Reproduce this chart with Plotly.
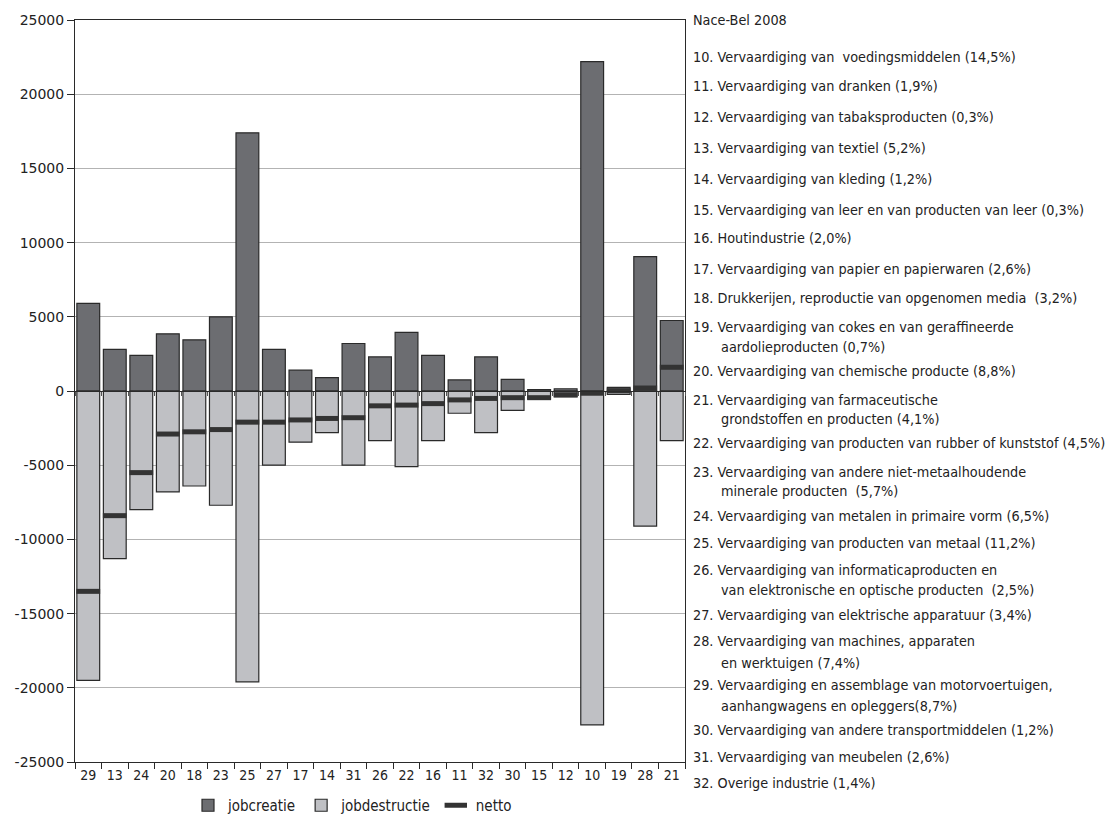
import plotly.graph_objects as go

# NACE-Bel 2008 sector codes, in plotted order
categories = ["29", "13", "24", "20", "18", "23", "25", "27", "17", "14", "31", "26",
              "22", "16", "11", "32", "30", "15", "12", "10", "19", "28", "21"]

jobcreatie = [5900, 2800, 2400, 3850, 3450, 5000, 17400, 2800, 1400, 900, 3200, 2300,
              3950, 2400, 750, 2300, 780, 100, 150, 22200, 250, 9050, 4750]

jobdestructie = [-19500, -11300, -8000, -6800, -6400, -7700, -19600, -5000, -3450, -2800, -5000, -3350,
                 -5100, -3350, -1500, -2800, -1300, -550, -400, -22500, -230, -9100, -3350]

netto = [-13500, -8400, -5500, -2900, -2750, -2600, -2100, -2100, -1950, -1850, -1800, -1000,
         -950, -850, -600, -500, -450, -450, -250, -150, 20, 200, 1600]

y_ticks = [25000, 20000, 15000, 10000, 5000, 0, -5000, -10000, -15000, -20000, -25000]

# Sector key shown to the right of the chart (second element = continuation line)
sector_key = [
    ("Nace-Bel 2008", None),
    ("10. Vervaardiging van  voedingsmiddelen (14,5%)", None),
    ("11. Vervaardiging van dranken (1,9%)", None),
    ("12. Vervaardiging van tabaksproducten (0,3%)", None),
    ("13. Vervaardiging van textiel (5,2%)", None),
    ("14. Vervaardiging van kleding (1,2%)", None),
    ("15. Vervaardiging van leer en van producten van leer (0,3%)", None),
    ("16. Houtindustrie (2,0%)", None),
    ("17. Vervaardiging van papier en papierwaren (2,6%)", None),
    ("18. Drukkerijen, reproductie van opgenomen media  (3,2%)", None),
    ("19. Vervaardiging van cokes en van geraffineerde", "aardolieproducten (0,7%)"),
    ("20. Vervaardiging van chemische producte (8,8%)", None),
    ("21. Vervaardiging van farmaceutische", "grondstoffen en producten (4,1%)"),
    ("22. Vervaardiging van producten van rubber of kunststof (4,5%)", None),
    ("23. Vervaardiging van andere niet-metaalhoudende", "minerale producten  (5,7%)"),
    ("24. Vervaardiging van metalen in primaire vorm (6,5%)", None),
    ("25. Vervaardiging van producten van metaal (11,2%)", None),
    ("26. Vervaardiging van informaticaproducten en", "van elektronische en optische producten  (2,5%)"),
    ("27. Vervaardiging van elektrische apparatuur (3,4%)", None),
    ("28. Vervaardiging van machines, apparaten", "en werktuigen (7,4%)"),
    ("29. Vervaardiging en assemblage van motorvoertuigen,", "aanhangwagens en opleggers(8,7%)"),
    ("30. Vervaardiging van andere transportmiddelen (1,2%)", None),
    ("31. Vervaardiging van meubelen (2,6%)", None),
    ("32. Overige industrie (1,4%)", None),
]

# Pixel layout of the canvas
W, H = 1119, 820
PL, PR, PT, PB = 75, 685, 20, 762
key_rows = [(20, None), (57, None), (86, None), (117, None), (148, None), (179, None),
            (210, None), (238, None), (269, None), (298, None), (327, 347), (371, None),
            (400, 419), (443, None), (472, 491), (516, None), (543, None), (570, 590),
            (615, None), (641, 663), (685, 706), (730, None), (757, None), (783, None)]

NARROW = "DejaVu Sans Condensed, Liberation Sans Narrow, sans-serif"
DARK = "#2a2a2a"
TEXT = "#222222"

fig = go.Figure()
fig.add_trace(go.Bar(
    x=categories, y=jobcreatie, name="jobcreatie",
    marker=dict(color="#6c6d71", line=dict(color=DARK, width=1.2)),
))
fig.add_trace(go.Bar(
    x=categories, y=jobdestructie, name="jobdestructie",
    marker=dict(color="#bfc0c4", line=dict(color=DARK, width=1.2)),
))
fig.add_trace(go.Scatter(
    x=categories, y=netto, name="netto", mode="markers", xaxis="x2",
    marker=dict(symbol="line-ew", size=17, color="#333333",
                line=dict(color="#333333", width=5)),
))

fig.update_layout(
    width=W, height=H,
    margin=dict(l=PL, r=W - PR, t=PT, b=H - PB, autoexpand=False),
    paper_bgcolor="white", plot_bgcolor="white",
    barmode="overlay", bargap=0.14,
    font=dict(family=NARROW, size=14, color=TEXT),
    xaxis=dict(
        type="category", categoryorder="array", categoryarray=categories,
        range=[-0.5, len(categories) - 0.5], automargin=False,
        showline=True, linecolor=DARK, linewidth=1, mirror=True,
        ticks="outside", ticklen=6, tickcolor=DARK, tickson="boundaries",
        showgrid=False, tickfont=dict(family=NARROW, size=14, color=TEXT),
    ),
    xaxis2=dict(
        type="category", categoryorder="array", categoryarray=categories,
        range=[-0.5, len(categories) - 0.5], matches="x",
        overlaying="x", anchor="free", position=0.5,
        showline=True, linecolor=DARK, linewidth=1.2,
        ticks="outside", ticklen=4, tickcolor="#555555", tickson="boundaries",
        showticklabels=False, showgrid=False,
    ),
    yaxis=dict(
        range=[-25000, 25000], tickvals=y_ticks, ticktext=[str(v) for v in y_ticks],
        automargin=False,
        showline=True, linecolor=DARK, linewidth=1, mirror=True,
        ticks="outside", ticklen=7, tickcolor=DARK,
        showgrid=True, gridcolor="#b3b3b3", gridwidth=1,
        zeroline=True, zerolinecolor=DARK, zerolinewidth=1.2,
        tickfont=dict(family="DejaVu Sans, sans-serif", size=14, color=TEXT),
    ),
    legend=dict(
        orientation="h", x=(188 - PL) / (PR - PL), xanchor="left",
        y=(PB - 789) / (PB - PT), yanchor="top",
        font=dict(family=NARROW, size=15, color=TEXT),
        itemwidth=30, traceorder="normal",
    ),
    showlegend=True,
)


def px_x(px):
    return (px - PL) / (PR - PL)


def px_y(py):
    return (PB - py) / (PB - PT)


for (first, second), (y1, y2) in zip(sector_key, key_rows):
    fig.add_annotation(text=first, xref="paper", yref="paper", x=px_x(691), y=px_y(y1),
                       xanchor="left", yanchor="middle", showarrow=False,
                       font=dict(family=NARROW, size=14.3, color=TEXT))
    if second:
        fig.add_annotation(text=second, xref="paper", yref="paper", x=px_x(719), y=px_y(y2),
                           xanchor="left", yanchor="middle", showarrow=False,
                           font=dict(family=NARROW, size=14.3, color=TEXT))

fig.write_html("out.html")
